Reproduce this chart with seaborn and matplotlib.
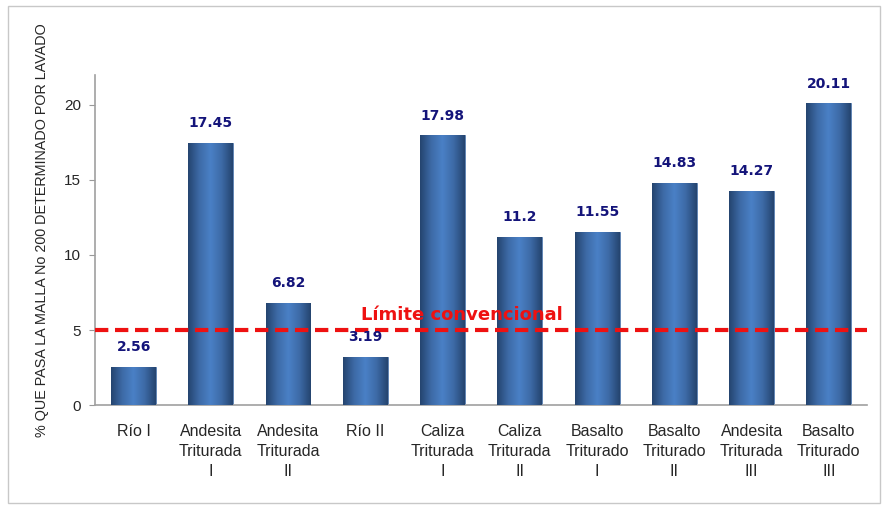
"""Bar chart: % passing No 200 sieve by washing, per aggregate."""

import matplotlib
matplotlib.use("Agg")
import matplotlib.pyplot as plt
import matplotlib.colors as mcolors
import numpy as np
import pandas as pd
import seaborn as sns
from matplotlib import font_manager
from matplotlib.patches import Rectangle

categories = [
    "Río I", "Andesita\nTriturada\nI", "Andesita\nTriturada\nII", "Río II",
    "Caliza\nTriturada\nI", "Caliza\nTriturada\nII", "Basalto\nTriturado\nI",
    "Basalto\nTriturado\nII", "Andesita\nTriturada\nIII", "Basalto\nTriturado\nIII",
]
values = [2.56, 17.45, 6.82, 3.19, 17.98, 11.2, 11.55, 14.83, 14.27, 20.11]
value_labels = ["2.56", "17.45", "6.82", "3.19", "17.98", "11.2", "11.55", "14.83", "14.27", "20.11"]
limit_value = 5
limit_label = "Límite convencional"

sns.set_style("white")
plt.rcParams["font.family"] = ["Liberation Sans", "DejaVu Sans"]

installed = {f.name for f in font_manager.fontManager.ttflist}
narrow = "Liberation Sans Narrow" if "Liberation Sans Narrow" in installed else "Liberation Sans"

df = pd.DataFrame({"muestra": categories, "valor": values})

fig = plt.figure(figsize=(8.9, 5.09), dpi=100)
# outer frame like the spreadsheet chart area
fig.patches.append(Rectangle((0.009, 0.012), 0.98, 0.976, transform=fig.transFigure,
                             fill=False, edgecolor="#c8c8c8", linewidth=1))
ax = fig.add_axes([0.1067, 0.2043, 0.868, 0.6484])

sns.barplot(data=df, x="muestra", y="valor", color="#3a6aa8", width=0.58,
            saturation=1, ax=ax, zorder=2)

# cylinder-like horizontal gradient on each bar
cmap = mcolors.LinearSegmentedColormap.from_list(
    "cyl", ["#24446e", "#3d6aa6", "#4a80c6", "#3d6aa6", "#24446e"])
grad = np.linspace(0, 1, 256).reshape(1, -1)
for p in ax.patches:
    x0, y0 = p.get_x(), p.get_y()
    w, h = p.get_width(), p.get_height()
    im = ax.imshow(grad, cmap=cmap, aspect="auto", extent=[x0, x0 + w, y0, y0 + h],
                   zorder=3, interpolation="bicubic")
    im.set_clip_path(p)
    p.set_edgecolor("#5a7fb0")
    p.set_linewidth(0.6)

for i, (v, lab) in enumerate(zip(values, value_labels)):
    ax.text(i, v + 0.85, lab, ha="center", va="bottom", color="#14147a",
            fontsize=10, fontweight="bold", family="DejaVu Sans", zorder=5)

ax.axhline(limit_value, color="#ee1111", linestyle=(0, (3.2, 1.6)), linewidth=3, zorder=4)
ax.text(4.25, 5.4, limit_label, ha="center", va="bottom", color="#ee1111",
        fontsize=13, fontweight="bold", family="DejaVu Sans", zorder=5)

ax.set_xlim(-0.5, len(categories) - 0.5)
ax.set_ylim(0, 22)
ax.set_yticks([0, 5, 10, 15, 20])
ax.set_xlabel("")
ax.set_ylabel("% QUE PASA LA MALLA No 200 DETERMINADO POR LAVADO", fontsize=10.4,
              family=narrow)
ax.yaxis.set_label_coords(-0.06, 0.53)
ax.tick_params(axis="x", labelsize=11.5, length=0, pad=14)
ax.tick_params(axis="y", labelsize=11, length=4, color="#999999", left=True, pad=6)
for lab in ax.get_xticklabels():
    lab.set_linespacing(1.4)
for side in ["top", "right"]:
    ax.spines[side].set_visible(False)
for side in ["left", "bottom"]:
    ax.spines[side].set_color("#a0a0a0")
    ax.spines[side].set_linewidth(1.2)

fig.savefig("out.png", dpi=100)
